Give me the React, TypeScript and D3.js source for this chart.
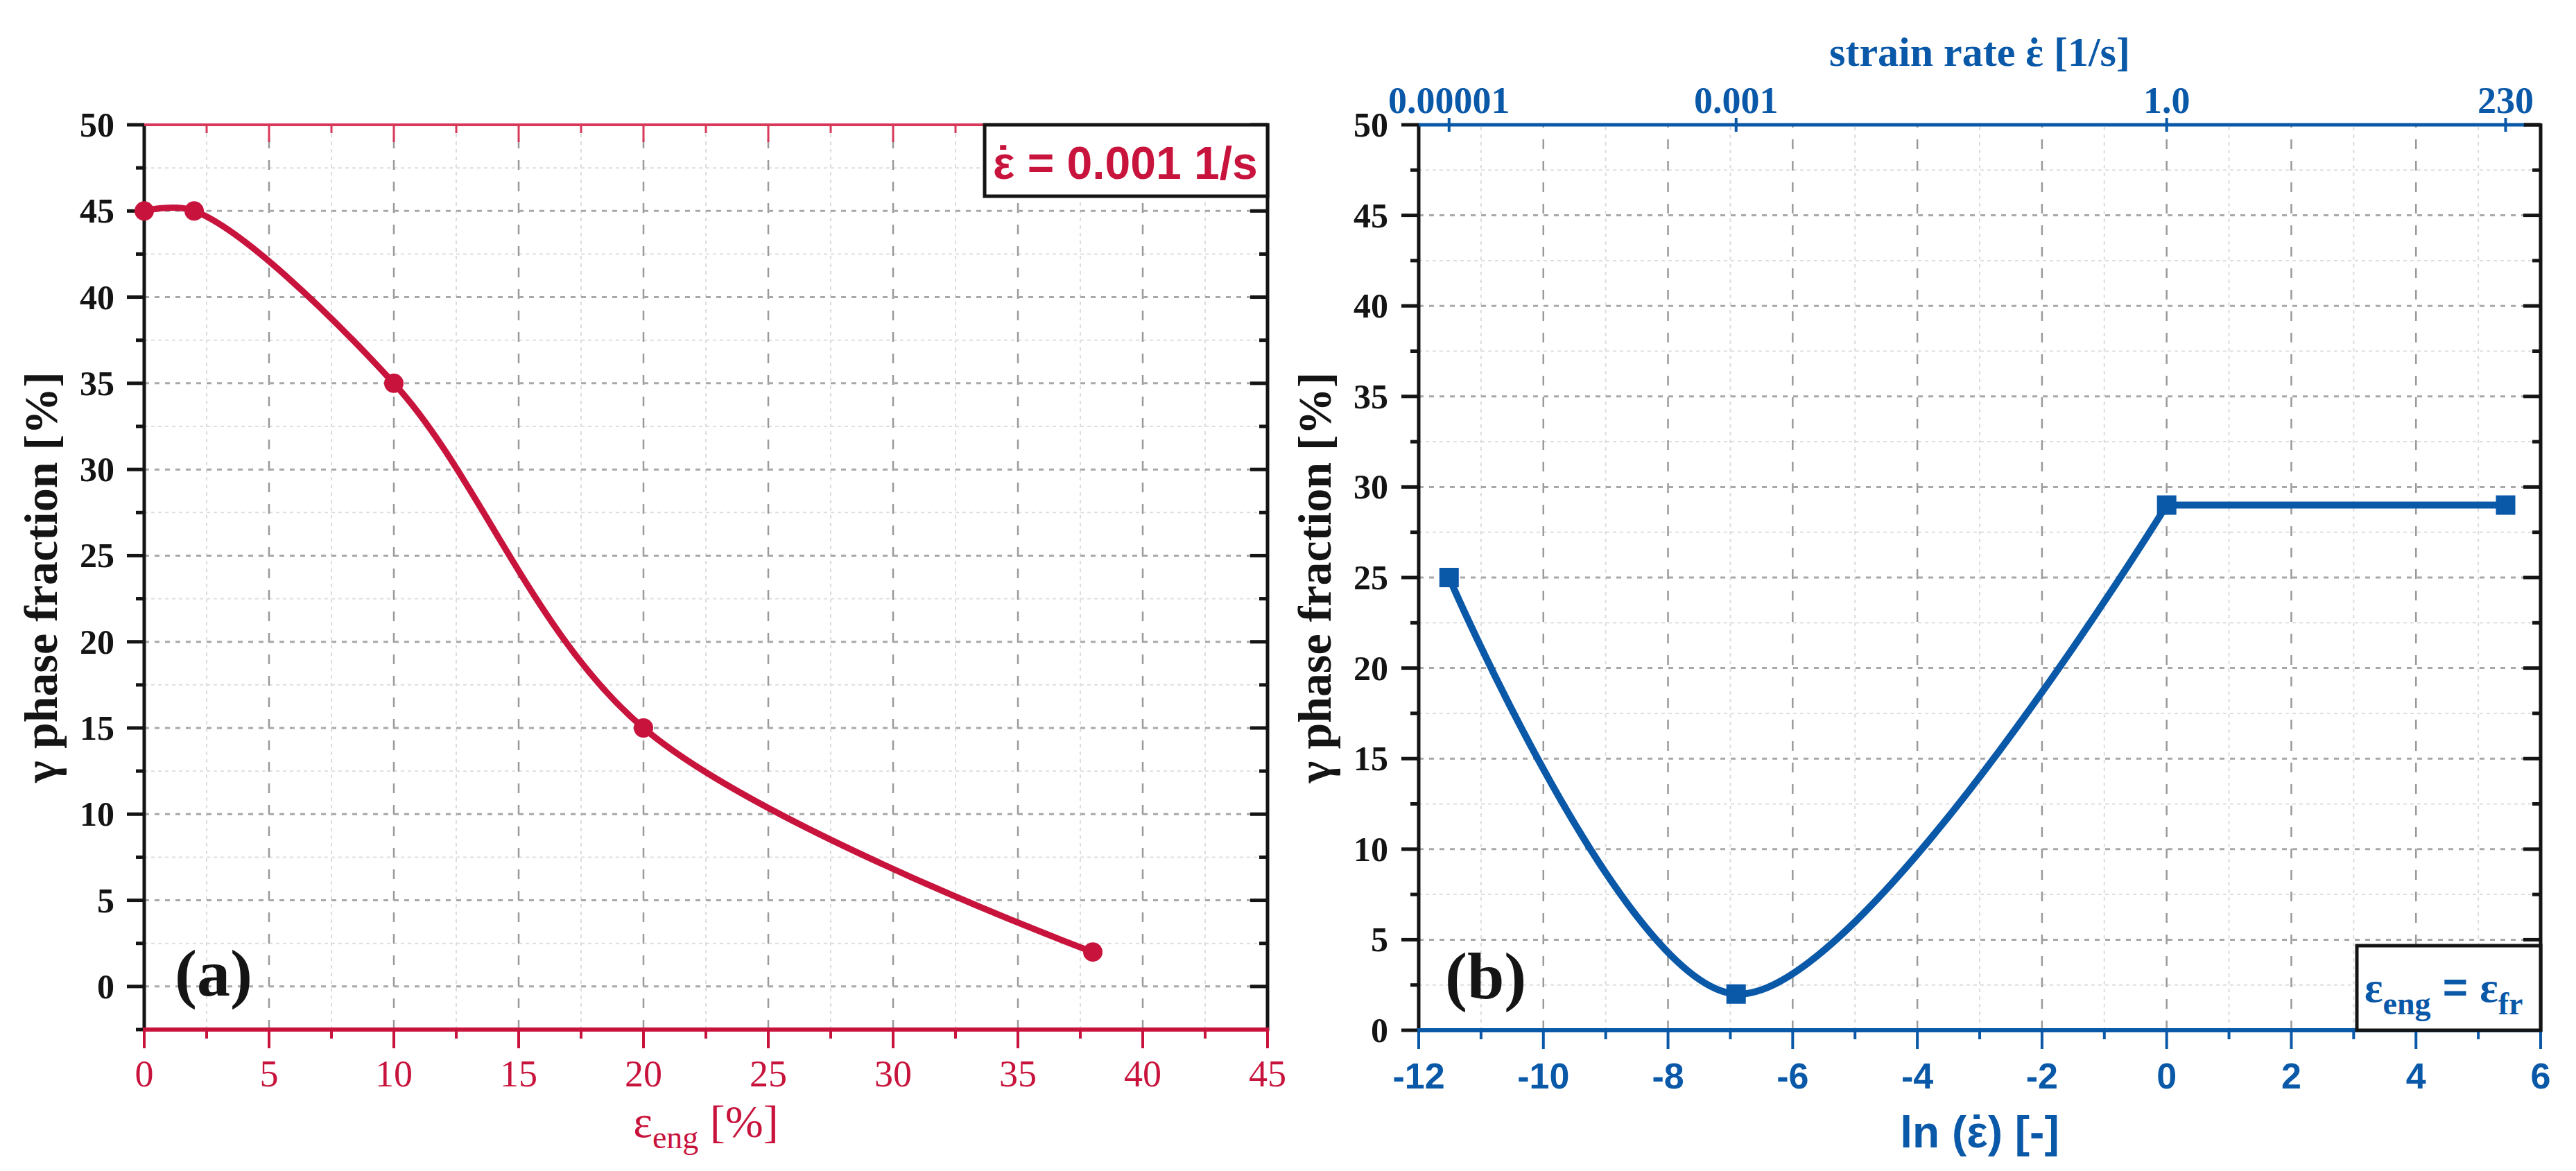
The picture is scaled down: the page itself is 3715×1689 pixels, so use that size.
import React from "react";
import * as d3 from "d3";

// ---------- data ----------
const strainEng = [0, 2, 10, 20, 38];          // panel (a) x: engineering strain [%]
const gammaA = [45, 45, 35, 15, 2];             // panel (a) y: gamma phase fraction [%]

const strainRates = [0.00001, 0.001, 1.0, 230]; // panel (b) strain rates [1/s]
const gammaB = [25, 2, 29, 29];                 // panel (b) y: gamma phase fraction [%]
const topTickLabels = ["0.00001", "0.001", "1.0", "230"];

const ticksA_X = [0, 5, 10, 15, 20, 25, 30, 35, 40, 45];
const ticksY = [0, 5, 10, 15, 20, 25, 30, 35, 40, 45, 50];
const ticksB_X = [-12, -10, -8, -6, -4, -2, 0, 2, 4, 6];

// ---------- styles ----------
const W = 3715, H = 1689;
const RED = "#c8143c";
const RED_LIGHT = "#d8385a";
const BLUE = "#0a58a8";
const BLACK = "#141414";
const SERIF = "'Liberation Serif', 'Times New Roman', serif";
const SANS = "'Liberation Sans', Arial, sans-serif";

const range = (a: number, b: number, s: number) => {
  const out: number[] = [];
  for (let v = a; v <= b + 1e-9; v += s) out.push(+v.toFixed(6));
  return out;
};

// epsilon with a dot above (ε̇): ε, then the spacing dot ˙ moved back over it, then the rest
function EpsDot({ fs, wEps, after, wDot = 0.333 }: { fs: number; wEps: number; after: string; wDot?: number }) {
  const a = fs * wEps, b = fs * wDot;
  return (
    <>
      <tspan>ε</tspan>
      <tspan dx={-(a / 2 + b / 2)}>˙</tspan>
      <tspan dx={a / 2 - b / 2}>{after}</tspan>
    </>
  );
}

function Grid({ x, y, vMajor, vMinor, hMajor, hMinor }: any) {
  const [x0, x1] = x.range();
  const [y0, y1] = y.range();
  return (
    <g>
      {vMinor.map((v: number) => (
        <line key={"vm" + v} x1={x(v)} x2={x(v)} y1={y0} y2={y1} stroke="#dcdcdc" strokeWidth={2} strokeDasharray="5,6" />
      ))}
      {hMinor.map((v: number) => (
        <line key={"hm" + v} x1={x0} x2={x1} y1={y(v)} y2={y(v)} stroke="#dedede" strokeWidth={2} strokeDasharray="5,5" />
      ))}
      {vMajor.map((v: number) => (
        <line key={"vM" + v} x1={x(v)} x2={x(v)} y1={y0} y2={y1} stroke="#9a9a9a" strokeWidth={2.5} strokeDasharray="14,17" />
      ))}
      {hMajor.map((v: number) => (
        <line key={"hM" + v} x1={x0} x2={x1} y1={y(v)} y2={y(v)} stroke="#a8a8a8" strokeWidth={3} strokeDasharray="7,8" />
      ))}
    </g>
  );
}

function YAxes({ x, y, minY, labelX }: any) {
  const [x0, x1] = x.range();
  const [yb, yt] = y.range();
  const majors = ticksY;
  const minors = range(minY, 47.5, 5).filter((v) => v >= minY);
  return (
    <g>
      <line x1={x0} x2={x0} y1={yt - 2} y2={yb + 2} stroke={BLACK} strokeWidth={5} />
      <line x1={x1} x2={x1} y1={yt - 2} y2={yb + 2} stroke={BLACK} strokeWidth={5} />
      {majors.map((v: number) => (
        <g key={"ym" + v}>
          <line x1={x0 - 25} x2={x0} y1={y(v)} y2={y(v)} stroke={BLACK} strokeWidth={5} />
          <line x1={x1 - 25} x2={x1} y1={y(v)} y2={y(v)} stroke={BLACK} strokeWidth={5} />
          <text x={labelX} y={y(v)} dy="0.34em" textAnchor="end" fontFamily={SERIF} fontWeight="bold" fontSize={50} fill={BLACK}>
            {v}
          </text>
        </g>
      ))}
      {minors.map((v: number) => (
        <g key={"yn" + v}>
          <line x1={x0 - 12} x2={x0} y1={y(v)} y2={y(v)} stroke={BLACK} strokeWidth={5} />
          <line x1={x1 - 12} x2={x1} y1={y(v)} y2={y(v)} stroke={BLACK} strokeWidth={5} />
        </g>
      ))}
    </g>
  );
}

export default function App() {
  // ---------- panel (a) ----------
  const xA = d3.scaleLinear().domain([0, 45]).range([208, 1828]);
  const yA = d3.scaleLinear().domain([-2.5, 50]).range([1485, 180]);
  const lineA = d3
    .line<number>()
    .x((_, i) => xA(strainEng[i]))
    .y((d) => yA(d))
    .curve(d3.curveCatmullRom.alpha(0.5));
  const boxA = { x: 1420, y: yA(50), w: xA(45) - 1420, h: 103 };

  // ---------- panel (b) ----------
  const xB = d3.scaleLinear().domain([-12, 6]).range([2046, 3664]);
  const yB = d3.scaleLinear().domain([0, 50]).range([1486, 180]);
  const lnRates = strainRates.map((r) => Math.log(r));
  const ptsB = lnRates.map((lx, i) => [xB(lx), yB(gammaB[i])] as [number, number]);
  const curveB = d3.line().curve(d3.curveCatmullRom.alpha(0.5))(ptsB.slice(0, 3)) || "";
  const flatB = d3.line()(ptsB.slice(2)) || "";
  const boxB = { x: 3399, y: 1364, w: xB(6) - 3399, h: yB(0) - 1364 };

  return (
    <svg width={W} height={H} style={{ position: "absolute", left: 0, top: 0, background: "#fff" }}>
      <rect x={0} y={0} width={W} height={H} fill="#ffffff" />

      {/* ===== Panel (a) ===== */}
      <Grid
        x={xA}
        y={yA}
        vMajor={range(5, 40, 5)}
        vMinor={range(2.5, 42.5, 5)}
        hMajor={range(0, 45, 5)}
        hMinor={range(-2.5, 47.5, 5).filter((v) => v > -2.5)}
      />
      <YAxes x={xA} y={yA} minY={-2.5} labelX={165} />
      {/* top axis (red, inward ticks) */}
      <line x1={xA(0)} x2={boxA.x} y1={yA(50)} y2={yA(50)} stroke={RED_LIGHT} strokeWidth={4} />
      {range(2.5, 32.5, 2.5).map((v) => (
        <line key={"ta" + v} x1={xA(v)} x2={xA(v)} y1={yA(50)} y2={yA(50) + (v % 5 === 0 ? 25 : 12)} stroke={RED_LIGHT} strokeWidth={3} />
      ))}
      {/* bottom axis (red) */}
      <line x1={xA(0) - 2} x2={xA(45) + 2} y1={yA(-2.5)} y2={yA(-2.5)} stroke={RED} strokeWidth={6} />
      {range(0, 45, 2.5).map((v) => (
        <line key={"ba" + v} x1={xA(v)} x2={xA(v)} y1={yA(-2.5)} y2={yA(-2.5) + (v % 5 === 0 ? 27 : 13)} stroke={RED} strokeWidth={4} />
      ))}
      {ticksA_X.map((v) => (
        <text key={"bl" + v} x={xA(v)} y={1567} textAnchor="middle" fontFamily={SERIF} fontSize={54} fill={RED}>
          {v}
        </text>
      ))}
      <text x={xA(22.5)} y={1640} textAnchor="middle" fontFamily={SERIF} fontSize={66} fill={RED}>
        ε<tspan fontSize={46} dy={16}>eng</tspan>
        <tspan dy={-16}> [%]</tspan>
      </text>
      <text transform={`translate(82, ${(yA(50) + yA(-2.5)) / 2}) rotate(-90)`} textAnchor="middle" fontFamily={SERIF} fontWeight="bold" fontSize={68} fill={BLACK}>
        γ phase fraction [%]
      </text>
      {/* curve + markers */}
      <path d={lineA(gammaA) || ""} fill="none" stroke={RED} strokeWidth={9} strokeLinejoin="round" />
      {gammaA.map((g, i) => (
        <circle key={"ca" + i} cx={xA(strainEng[i])} cy={yA(g)} r={14} fill={RED} />
      ))}
      {/* legend box */}
      <rect x={boxA.x} y={boxA.y} width={boxA.w} height={boxA.h} fill="#fff" stroke={BLACK} strokeWidth={5} />
      <text x={1432} y={258} fontFamily={SANS} fontWeight="bold" fontSize={66} fill={RED}>
        <EpsDot fs={66} wEps={0.5} after=" = 0.001 1/s" />
      </text>
      <text x={252} y={1436} fontFamily={SERIF} fontWeight="bold" fontSize={96} fill={BLACK}>
        (a)
      </text>

      {/* ===== Panel (b) ===== */}
      <Grid
        x={xB}
        y={yB}
        vMajor={range(-10, 4, 2)}
        vMinor={range(-11, 5, 2)}
        hMajor={range(5, 45, 5)}
        hMinor={range(2.5, 47.5, 5)}
      />
      <YAxes x={xB} y={yB} minY={2.5} labelX={2002} />
      {/* top axis (blue) */}
      <line x1={xB(-12)} x2={xB(6) - 22} y1={yB(50)} y2={yB(50)} stroke={BLUE} strokeWidth={5} />
      <line x1={xB(6) - 24} x2={xB(6)} y1={yB(50)} y2={yB(50)} stroke={BLACK} strokeWidth={5} />
      {lnRates.map((lx, i) => (
        <g key={"tb" + i}>
          <line x1={xB(lx)} x2={xB(lx)} y1={yB(50) - 10} y2={yB(50) + 10} stroke={BLUE} strokeWidth={4} />
          <text x={xB(lx)} y={163} textAnchor="middle" fontFamily={SERIF} fontWeight="bold" fontSize={54} fill={BLUE}>
            {topTickLabels[i]}
          </text>
        </g>
      ))}
      <text x={(xB(-12) + xB(6)) / 2} y={95} textAnchor="middle" fontFamily={SERIF} fontWeight="bold" fontSize={60} fill={BLUE}>
        <tspan>strain rate </tspan>
        <EpsDot fs={60} wEps={0.44} after=" [1/s]" />
      </text>
      {/* bottom axis (blue) */}
      <line x1={xB(-12) - 2} x2={xB(6) + 2} y1={yB(0)} y2={yB(0)} stroke={BLUE} strokeWidth={6} />
      {range(-12, 6, 1).map((v) => (
        <line key={"bb" + v} x1={xB(v)} x2={xB(v)} y1={yB(0)} y2={yB(0) + (v % 2 === 0 ? 27 : 13)} stroke={BLUE} strokeWidth={4} />
      ))}
      {ticksB_X.map((v) => (
        <text key={"bbl" + v} x={xB(v)} y={1570} textAnchor="middle" fontFamily={SANS} fontWeight="bold" fontSize={52} fill={BLUE}>
          {v}
        </text>
      ))}
      <text x={(xB(-12) + xB(6)) / 2} y={1655} textAnchor="middle" fontFamily={SANS} fontWeight="bold" fontSize={64} fill={BLUE}>
        <tspan>ln (</tspan>
        <EpsDot fs={64} wEps={0.5} after=") [-]" />
      </text>
      <text transform={`translate(1919, ${(yB(50) + yB(0)) / 2}) rotate(-90)`} textAnchor="middle" fontFamily={SERIF} fontWeight="bold" fontSize={68} fill={BLACK}>
        γ phase fraction [%]
      </text>
      {/* curve + markers */}
      <path d={curveB} fill="none" stroke={BLUE} strokeWidth={10} strokeLinejoin="round" />
      <path d={flatB} fill="none" stroke={BLUE} strokeWidth={10} />
      {ptsB.map(([px, py], i) => (
        <rect key={"sb" + i} x={px - 14} y={py - 14} width={28} height={28} fill={BLUE} />
      ))}
      {/* legend box */}
      <rect x={boxB.x} y={boxB.y} width={boxB.w} height={boxB.h} fill="#fff" stroke={BLACK} strokeWidth={5} />
      <text x={3410} y={1445} fontFamily={SERIF} fontWeight="bold" fontSize={62} fill={BLUE}>
        ε<tspan fontSize={46} dy={18}>eng</tspan>
        <tspan dy={-18} fontFamily={SANS}> = </tspan>
        <tspan>ε</tspan>
        <tspan fontSize={46} dy={18}>fr</tspan>
      </text>
      <text x={2084} y={1440} fontFamily={SERIF} fontWeight="bold" fontSize={96} fill={BLACK}>
        (b)
      </text>
    </svg>
  );
}
